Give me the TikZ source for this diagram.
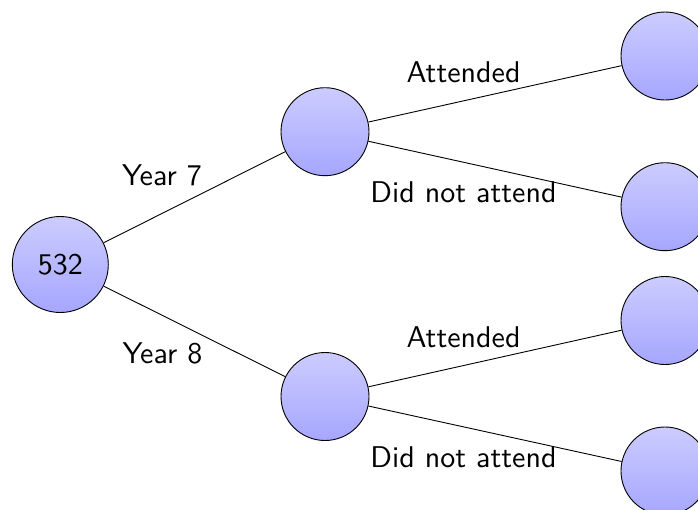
\documentclass[tikz,border=0pt]{standalone}
\usepackage{fontspec}
\begin{document}
\begin{tikzpicture}[x=1pt,y=-1pt,
  every node/.style={font=\fontsize{10}{12}\selectfont\sffamily},
  ball/.style={circle,draw=black,line width=0.9pt,top color=blue!20,bottom color=blue!35,minimum size=88pt,inner sep=0pt},
  rootball/.style={ball,minimum size=96pt},
  edge/.style={line width=0.9pt},
  lbl/.style={anchor=base,inner sep=0pt,scale=3}]
\useasboundingbox (0,0) rectangle (698,509);
\node[rootball] (root) at (60.3,264.5) {\scalebox{3}{532}};
\node[ball] (m1) at (325,131.7) {};
\node[ball] (m2) at (325,396.5) {};
\node[ball] (r1) at (665,56) {};
\node[ball] (r2) at (665,206.7) {};
\node[ball] (r3) at (665,320.5) {};
\node[ball] (r4) at (665,471) {};
\draw[edge] (root) -- (m1);
\draw[edge] (root) -- (m2);
\draw[edge] (m1) -- (r1);
\draw[edge] (m1) -- (r2);
\draw[edge] (m2) -- (r3);
\draw[edge] (m2) -- (r4);
\node[lbl] (y7) at (162,185.7) {Year 7};
\node[lbl] (y8) at (162.5,363.3) {Year 8};
\node[lbl] (a1) at (463.5,82.7) {Attended};
\node[lbl] (d1) at (463.5,202.7) {Did not attend};
\node[lbl] (a2) at (463.5,347.7) {Attended};
\node[lbl] (d2) at (463.5,467.7) {Did not attend};
\end{tikzpicture}
\end{document}
